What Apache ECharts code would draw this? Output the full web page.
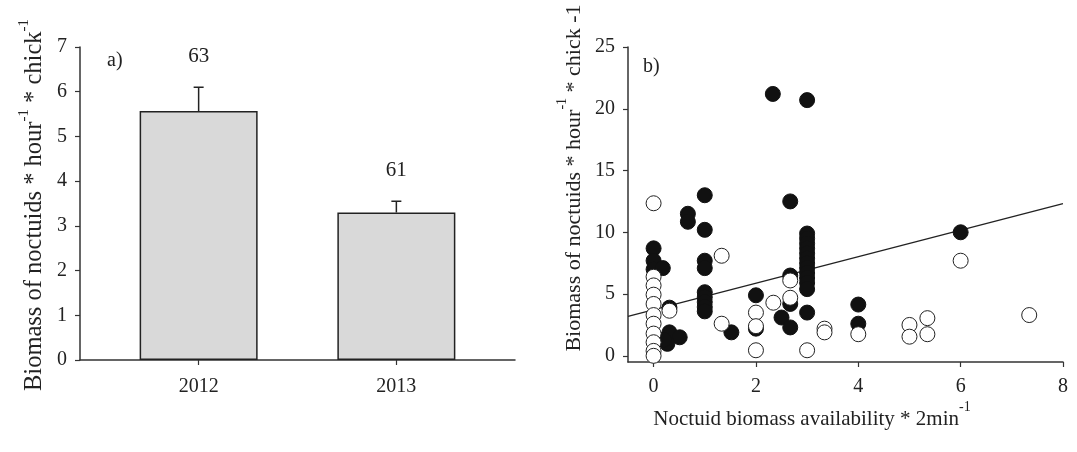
<!DOCTYPE html>
<html>
<head>
<meta charset="utf-8">
<script src="https://cdn.jsdelivr.net/npm/echarts@6/dist/echarts.min.js"></script>
<style>html,body{margin:0;padding:0;background:#fff}#c{width:1077px;height:452px}</style>
</head>
<body>
<div id="c"></div>
<script>
// ---- Panel a) data ----
var years = ['2012', '2013'];
var meanBiomass = [5.57, 3.3];
var upperError = [6.1, 3.55];
var sampleSize = [63, 61];

// ---- Panel b) data: filled circles ----
var filledX = [0, 0, 0, 0.18, 0.31, 0.31, 0.51, 0.27, 0.2, 0.67, 0.67,
  1, 1, 1, 1, 1, 1, 1, 1, 1, 1.52,
  2, 2, 2.33, 2.5, 2.67, 2.67, 2.67, 2.67,
  3, 3, 3, 3, 3, 3, 3, 3, 3, 3, 3, 3, 3, 3,
  4, 4, 6];
var filledY = [8.7, 7.7, 7.0, 7.1, 3.9, 1.9, 1.5, 0.97, 1.3, 11.5, 10.85,
  13.0, 10.2, 7.7, 7.1, 5.15, 4.75, 4.35, 3.95, 3.6, 1.9,
  4.9, 2.2, 21.2, 3.1, 12.5, 6.5, 4.2, 2.3,
  20.7, 9.9, 9.5, 9.1, 8.7, 8.3, 7.9, 7.5, 7.1, 6.7, 6.3, 5.9, 5.4, 3.5,
  4.15, 2.6, 10.0];
// ---- Panel b) data: open circles ----
var openX = [0, 0, 0, 0, 0, 0, 0, 0, 0, 0, 0, 0.31,
  1.33, 1.33, 2, 2, 2, 2.34, 2.67, 2.67, 3, 3.34, 3.34,
  4, 5, 5, 5.35, 5.35, 6, 7.34];
var openY = [12.35, 6.4, 5.7, 4.95, 4.2, 3.3, 2.6, 1.8, 1.1, 0.4, 0.0, 3.65,
  8.1, 2.6, 3.5, 2.4, 0.45, 4.3, 6.1, 4.7, 0.45, 2.2, 1.9,
  1.75, 2.5, 1.55, 3.05, 1.75, 7.7, 3.3];
// regression line end points
var fitX = [-0.5, 8];
var fitY = [3.2, 12.33];
var xTicksB = [0, 2, 4, 6, 8];
var yTicksB = [0, 5, 10, 15, 20, 25];

var FONT = 'Liberation Serif';
var TXT = '#222';
var LINE = '#333';

function zip(a, b) { return a.map(function (v, i) { return [v, b[i]]; }); }

var chart = echarts.init(document.getElementById('c'), null, { renderer: 'canvas' });

var lineSt = { color: LINE, width: 1.5 };
var tickSt = { color: LINE, width: 1.2 };
var lbl = { color: TXT, fontFamily: FONT, fontSize: 20 };

function supTitle(parts, big, small) {
  return {
    text: parts,
    align: 'center', verticalAlign: 'middle', fill: TXT, fontFamily: FONT,
    rich: {
      a: { fontSize: big, fontFamily: FONT, fill: TXT, lineHeight: 30, verticalAlign: 'bottom' },
      s: { fontSize: small, fontFamily: FONT, fill: TXT, lineHeight: 30, verticalAlign: 'top' }
    }
  };
}

var option = {
  backgroundColor: '#fff',
  animation: false,
  grid: [
    { left: 80, top: 47, width: 435, height: 313 },
    { left: 628, top: 47, width: 435, height: 315 }
  ],
  xAxis: [
    { type: 'value', gridIndex: 0, min: -0.6, max: 1.6, splitLine: { show: false },
      axisLine: { onZero: false, lineStyle: lineSt },
      axisTick: { show: true, length: 5, customValues: [0, 1], lineStyle: tickSt },
      axisLabel: Object.assign({ margin: 17, customValues: [0, 1],
        formatter: function (v) { return years[Math.round(v)]; } }, lbl) },
    { type: 'value', gridIndex: 1, min: -0.5, max: 8, splitLine: { show: false },
      axisLine: { onZero: false, lineStyle: lineSt },
      axisTick: { show: true, length: 5, customValues: xTicksB, lineStyle: tickSt },
      axisLabel: Object.assign({ margin: 15, customValues: xTicksB }, lbl) }
  ],
  yAxis: [
    { type: 'value', gridIndex: 0, min: 0, max: 7, interval: 1, splitLine: { show: false },
      axisLine: { show: true, onZero: false, lineStyle: lineSt },
      axisTick: { show: true, length: 5, lineStyle: tickSt },
      axisLabel: Object.assign({ margin: 13 }, lbl) },
    { type: 'value', gridIndex: 1, min: -0.5, max: 25, splitLine: { show: false },
      axisLine: { show: true, onZero: false, lineStyle: lineSt },
      axisTick: { show: true, length: 5, customValues: yTicksB, lineStyle: tickSt },
      axisLabel: Object.assign({ margin: 13, customValues: yTicksB }, lbl) }
  ],
  graphic: [
    { type: 'text', left: 107, top: 51, style: { text: 'a)', fontFamily: FONT, fontSize: 20, fill: TXT } },
    { type: 'text', left: 643, top: 57, style: { text: 'b)', fontFamily: FONT, fontSize: 20, fill: TXT } },
    { type: 'text', x: 32, y: 205, rotation: Math.PI / 2,
      style: supTitle('{a|Biomass of noctuids * hour}{s|-1}{a| * chick}{s|-1}', 24.5, 15) },
    { type: 'text', x: 570, y: 178, rotation: Math.PI / 2,
      style: supTitle('{a|Biomass of noctuids * hour}{s|-1}{a| * chick -1}', 22, 14) },
    { type: 'text', x: 812, y: 415,
      style: supTitle('{a|Noctuid biomass availability * 2min}{s|-1}', 21, 14) }
  ],
  series: [
    { type: 'bar', xAxisIndex: 0, yAxisIndex: 0, barWidth: 118,
      data: zip([0, 1], meanBiomass),
      itemStyle: { color: '#d9d9d9', borderColor: '#222', borderWidth: 1.5 } },
    { type: 'custom', xAxisIndex: 0, yAxisIndex: 0, z: 5,
      encode: { x: 0, y: [1, 2] },
      data: years.map(function (y, i) { return [i, meanBiomass[i], upperError[i], sampleSize[i]]; }),
      renderItem: function (params, api) {
        var p0 = api.coord([api.value(0), api.value(1)]);
        var p1 = api.coord([api.value(0), api.value(2)]);
        return { type: 'group', children: [
          { type: 'polyline',
            shape: { points: [[p0[0], p0[1]], [p1[0], p1[1]], [p1[0] - 5, p1[1]], [p1[0] + 5, p1[1]]] },
            style: { stroke: '#222', lineWidth: 1.5, fill: null } },
          { type: 'text', x: p1[0], y: p1[1] - 31,
            style: { text: String(api.value(3)), align: 'center', verticalAlign: 'middle',
              fontFamily: FONT, fontSize: 21, fill: TXT } }
        ] };
      } },
    { type: 'line', xAxisIndex: 1, yAxisIndex: 1, data: zip(fitX, fitY), showSymbol: false, symbol: 'none',
      lineStyle: { color: '#222', width: 1.3 }, z: 1 },
    { type: 'scatter', xAxisIndex: 1, yAxisIndex: 1, data: zip(filledX, filledY), symbolSize: 15,
      itemStyle: { color: '#111', borderColor: '#111', borderWidth: 1, opacity: 1 }, z: 2 },
    { type: 'scatter', xAxisIndex: 1, yAxisIndex: 1, data: zip(openX, openY), symbolSize: 15,
      itemStyle: { color: '#fff', borderColor: '#222', borderWidth: 1, opacity: 1 }, z: 3 }
  ]
};
chart.setOption(option);
</script>
</body>
</html>
